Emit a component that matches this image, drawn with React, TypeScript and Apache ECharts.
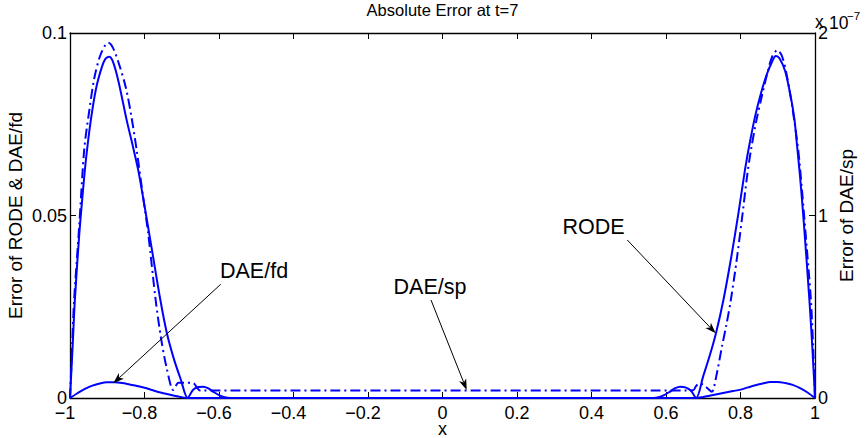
import React, { useEffect, useRef } from "react";
import * as echarts from "echarts";

const FONT = "'Liberation Sans', Arial, Helvetica, sans-serif";
const BLUE = "#0000ff";

const titleText = "Absolute Error at t=7";
const xLabel = "x";
const yLeftLabel = "Error of RODE & DAE/fd";
const yRightLabel = "Error of DAE/sp";
const rightExponent = "−7";

// x axis
const xMin = -1;
const xMax = 1;
const xStep = 0.2;
// left y axis
const yLeftMax = 0.1;
const yLeftStep = 0.05;
// right y axis (units of 1e-7)
const yRightMax = 2;
const yRightStep = 1;

// RODE (solid, left axis)
const rodeX = [
  -1, -0.993, -0.987, -0.975, -0.965, -0.957, -0.944, -0.93, -0.915, -0.905, -0.895, -0.885, -0.87,
  -0.848, -0.832, -0.817, -0.803, -0.781, -0.758, -0.74, -0.722, -0.703, -0.684, -0.67, -0.655,
  -0.642, -0.63, -0.615, -0.6, -0.585, -0.57, 0.566, 0.58, 0.595, 0.61, 0.625, 0.638, 0.652, 0.667,
  0.681, 0.7, 0.717, 0.734, 0.754, 0.775, 0.795, 0.812, 0.825, 0.84, 0.855, 0.87, 0.885, 0.895,
  0.905, 0.92, 0.935, 0.945, 0.951, 0.96, 0.97, 0.985, 0.993, 1,
];
const rodeY = [
  0, 0.014, 0.0268, 0.045, 0.057, 0.0655, 0.0762, 0.0848, 0.0905, 0.0929, 0.0935, 0.0922, 0.0868,
  0.0762, 0.0693, 0.0625, 0.0545, 0.0412, 0.0272, 0.0178, 0.011, 0.0052, 0, 0.0022, 0.003, 0.0031,
  0.0027, 0.0017, 0.0008, 0.0002, 0, 0, 0.0002, 0.0008, 0.0017, 0.0027, 0.0031, 0.0029, 0.002, 0,
  0.006, 0.0115, 0.0177, 0.0268, 0.0385, 0.051, 0.0625, 0.07, 0.0775, 0.0835, 0.0885, 0.0922,
  0.0937, 0.093, 0.0895, 0.0825, 0.0762, 0.07, 0.0605, 0.048, 0.0268, 0.0135, 0,
];

// DAE/fd (solid, left axis)
const fdX = [
  -1, -0.98, -0.96, -0.94, -0.92, -0.9, -0.88, -0.86, -0.84, -0.82, -0.8, -0.78, -0.76, -0.74, -0.72,
  -0.7, -0.684, 0.681, 0.7, 0.72, 0.74, 0.76, 0.78, 0.8, 0.82, 0.84, 0.86, 0.88, 0.9, 0.92, 0.94,
  0.96, 0.98, 1,
];
const fdY = [
  0, 0.0013, 0.0025, 0.0034, 0.004, 0.0043, 0.0043, 0.0041, 0.0037, 0.0033, 0.0028, 0.0022, 0.0016,
  0.0011, 0.0006, 0.0002, 0, 0, 0.0003, 0.0007, 0.0011, 0.0015, 0.0019, 0.0023, 0.0029, 0.0035,
  0.004, 0.0044, 0.0044, 0.0041, 0.0036, 0.0027, 0.0015, 0,
];

// DAE/sp (dash-dot, right axis, in units of 1e-7)
const spX = [
  -1, -0.994, -0.989, -0.975, -0.962, -0.95, -0.935, -0.92, -0.905, -0.897, -0.885, -0.87, -0.85,
  -0.835, -0.821, -0.805, -0.79, -0.77, -0.755, -0.74, -0.723, -0.715, -0.709, -0.69, -0.669, -0.66,
  -0.651, 0.66, 0.673, 0.681, 0.689, 0.7, 0.712, 0.723, 0.735, 0.75, 0.762, 0.774, 0.79, 0.805,
  0.818, 0.828, 0.843, 0.858, 0.872, 0.885, 0.899, 0.912, 0.925, 0.94, 0.955, 0.965, 0.978, 0.989,
  0.995, 1,
];
const spY = [
  0, 0.3, 0.536, 0.95, 1.358, 1.55, 1.75, 1.87, 1.935, 1.946, 1.92, 1.84, 1.7, 1.54, 1.358, 1.12, 0.9,
  0.536, 0.32, 0.16, 0.044, 0.07, 0.084, 0.084, 0.082, 0.06, 0.041, 0.041, 0.042, 0.066, 0.08, 0.072,
  0.052, 0.034, 0.12, 0.28, 0.4, 0.536, 0.76, 1.0, 1.22, 1.358, 1.524, 1.66, 1.78, 1.87, 1.906, 1.87,
  1.76, 1.58, 1.358, 1.14, 0.82, 0.536, 0.28, 0,
];

// annotations in left-axis data coordinates
const annotations = [
  { text: "DAE/fd", at: [-0.5973, 0.0347], from: [-0.5954, 0.03115], to: [-0.8838, 0.00403] },
  { text: "DAE/sp", at: [-0.1315, 0.03041], from: [-0.0309, 0.02685], to: [0.065, 0.00219] },
  { text: "RODE", at: [0.3221, 0.04685], from: [0.4961, 0.04329], to: [0.7334, 0.01773] },
];

const zip = (xs: number[], ys: number[]) => xs.map((x, i) => [x, ys[i]]);

const fmtX = (v: number) => {
  const r = Math.round(v * 10) / 10;
  return r < 0 ? "\u2212" + String(-r) + "\u00a0\u00a0" : String(r);
};
const fmtY = (v: number) => String(Math.round(v * 100) / 100);

const axisLine = { show: true, onZero: false, lineStyle: { color: "#000", width: 1.3 } };
const tick = { show: true, inside: true, length: 6, lineStyle: { color: "#000", width: 1 } };
const lbl = { color: "#000", fontSize: 18, fontFamily: FONT, lineHeight: 12 };

export default function App() {
  const ref = useRef<HTMLDivElement>(null);
  useEffect(() => {
    const chart = echarts.init(ref.current!, null, { renderer: "svg" });
    chart.setOption({
      animation: false,
      backgroundColor: "#fff",
      grid: { left: 70, right: 50, top: 33, bottom: 40 },
      xAxis: [
        {
          type: "value", min: xMin, max: xMax, interval: xStep, position: "bottom",
          axisLine, axisTick: tick, splitLine: { show: false },
          axisLabel: { ...lbl, margin: 9, formatter: fmtX },
        },
        {
          type: "value", min: xMin, max: xMax, interval: xStep, position: "top",
          axisLine, axisTick: tick, splitLine: { show: false }, axisLabel: { show: false },
        },
      ],
      yAxis: [
        {
          type: "value", min: 0, max: yLeftMax, interval: yLeftStep, position: "left",
          axisLine, axisTick: tick, splitLine: { show: false },
          axisLabel: { ...lbl, margin: 3, formatter: fmtY },
        },
        {
          type: "value", min: 0, max: yRightMax, interval: yRightStep, position: "right",
          axisLine, axisTick: tick, splitLine: { show: false },
          axisLabel: { ...lbl, margin: 3, formatter: fmtY },
        },
      ],
      series: [
        {
          name: "RODE", type: "line", xAxisIndex: 0, yAxisIndex: 0, data: zip(rodeX, rodeY),
          showSymbol: false, smooth: 0.3, lineStyle: { color: BLUE, width: 2 },
        },
        {
          name: "DAE/fd", type: "line", xAxisIndex: 0, yAxisIndex: 0, data: zip(fdX, fdY),
          showSymbol: false, smooth: 0.3, lineStyle: { color: BLUE, width: 2 },
        },
        {
          name: "DAE/sp", type: "line", xAxisIndex: 0, yAxisIndex: 1, data: zip(spX, spY),
          showSymbol: false, smooth: 0.3, lineStyle: { color: BLUE, width: 2, type: [10, 4, 2, 4] },
        },
      ],
    });

    const toPx = (p: number[]) => chart.convertToPixel({ xAxisIndex: 0, yAxisIndex: 0 }, p) as number[];
    const graphics: any[] = [];
    const text = (t: string, x: number, y: number, fs: number, align: string, extra: any = {}, lh?: number) => ({
      type: "text", x, y, z: 100, ...extra,
      style: {
        text: t, fontSize: fs, fontFamily: FONT, fill: "#000", align, verticalAlign: "middle",
        ...(lh ? { lineHeight: lh } : {}),
      },
    });
    const gl = toPx([xMin, 0]);
    const gr = toPx([xMax, yLeftMax]);
    const cx = (gl[0] + gr[0]) / 2;
    const cy = (gl[1] + gr[1]) / 2;
    graphics.push(text(titleText, cx, 10, 16.5, "center"));
    graphics.push(text(xLabel, cx, 429, 18, "center", {}, 12));
    graphics.push(text(yLeftLabel, 15, cy, 19, "center", { rotation: Math.PI / 2 }));
    graphics.push(text(yRightLabel, 846, cy, 19, "center", { rotation: Math.PI / 2 }));
    graphics.push(text("x", gr[0], 22, 17.5, "left", {}, 9));
    graphics.push(text("10", gr[0] + 14, 23, 17.5, "left", {}, 12));
    graphics.push(text(rightExponent, gr[0] + 32, 16, 11.5, "left", {}, 9));

    annotations.forEach((a) => {
      const p = toPx(a.at);
      graphics.push(text(a.text, p[0], p[1], 21.5, "left"));
      const s = toPx(a.from);
      const t = toPx(a.to);
      const dx = t[0] - s[0];
      const dy = t[1] - s[1];
      const len = Math.hypot(dx, dy);
      const ux = dx / len, uy = dy / len;
      const px = -uy, py = ux;
      const L = 11, W = 3.8, N = 3;
      const bx = t[0] - L * ux, by = t[1] - L * uy;
      const nx = t[0] - (L - N) * ux, ny = t[1] - (L - N) * uy;
      graphics.push({
        type: "line", z: 100,
        shape: { x1: s[0], y1: s[1], x2: nx, y2: ny },
        style: { stroke: "#000", lineWidth: 1 },
      });
      graphics.push({
        type: "polygon", z: 100,
        shape: { points: [[t[0], t[1]], [bx + W * px, by + W * py], [nx, ny], [bx - W * px, by - W * py]] },
        style: { fill: "#000" },
      });
    });
    chart.setOption({ graphic: graphics });
    return () => chart.dispose();
  }, []);
  return (
    <div
      ref={ref}
      style={{ position: "absolute", left: 0, top: 0, width: 865, height: 438, background: "#fff" }}
    />
  );
}
